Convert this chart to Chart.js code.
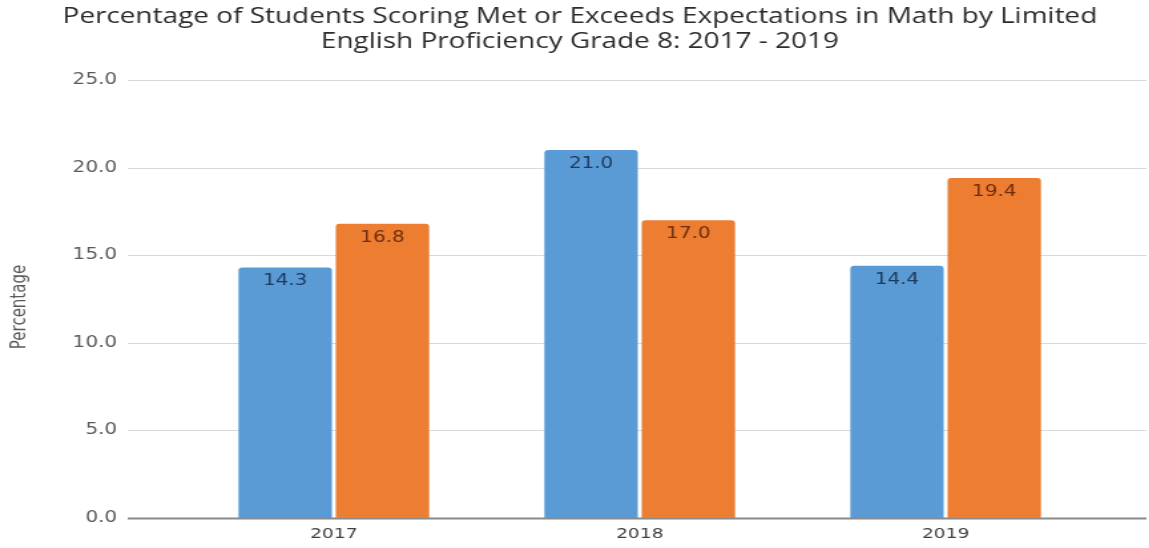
<!DOCTYPE html>
<html>
<head>
<meta charset="utf-8">
<script src="https://cdn.jsdelivr.net/npm/chart.js@4.4.1/dist/chart.umd.min.js"></script>
<style>
  html, body { margin: 0; padding: 0; background: #fff; overflow: hidden; }
  /* chart is drawn narrow and widened on screen */
  #chart { display: block; transform: scaleX(1.33); transform-origin: 0 0; }
</style>
</head>
<body>
<canvas id="chart" width="864" height="548"></canvas>
<script>
const years = ["2017", "2018", "2019"];
const seriesA = [14.3, 21.0, 14.4];
const seriesB = [16.8, 17.0, 19.4];
const yTicks = [0, 5, 10, 15, 20, 25];
const titleLines = [
  "Percentage of Students Scoring Met or Exceeds Expectations in Math by Limited",
  "English Proficiency Grade 8: 2017 - 2019"
];

// title, y-axis caption, y tick labels and the long horizontal rules
const framePlugin = {
  id: "frame",
  beforeDatasetsDraw(chart) {
    const { ctx } = chart;
    const y = chart.scales.y;
    const left = 96, right = 862;
    ctx.save();
    ctx.font = "15px 'DejaVu Sans'";
    ctx.textAlign = "right";
    ctx.textBaseline = "middle";
    y.ticks.forEach(t => {
      const py = Math.round(y.getPixelForValue(t.value)) + 0.5;
      ctx.beginPath();
      ctx.strokeStyle = t.value === 0 ? "#8a8a8a" : "#d9d9d9";
      ctx.lineWidth = t.value === 0 ? 2 : 1;
      ctx.moveTo(left, py);
      ctx.lineTo(right, py);
      ctx.stroke();
      ctx.fillStyle = "#595959";
      ctx.fillText(t.value.toFixed(1), 88, py);
    });

    ctx.fillStyle = "#2b2b2b";
    ctx.font = "21px 'Open Sans'";
    ctx.textAlign = "center";
    ctx.fillText(titleLines[0], 436, 17);
    ctx.fillText(titleLines[1], 436, 42);

    ctx.fillStyle = "#595959";
    ctx.font = "15px 'DejaVu Sans'";
    ctx.translate(15, 307);
    ctx.rotate(-Math.PI / 2);
    ctx.fillText("Percentage", 0, 0);
    ctx.restore();
  }
};

// value labels inside the top of every bar
const valuePlugin = {
  id: "barValues",
  afterDatasetsDraw(chart) {
    const { ctx } = chart;
    const colors = ["#1f3a60", "#6e2d0c"];
    ctx.save();
    ctx.font = "15px 'DejaVu Sans'";
    ctx.textAlign = "center";
    ctx.textBaseline = "middle";
    chart.data.datasets.forEach((ds, i) => {
      chart.getDatasetMeta(i).data.forEach((bar, j) => {
        ctx.fillStyle = colors[i];
        ctx.fillText(ds.data[j].toFixed(1), bar.x, bar.y + 14);
      });
    });
    ctx.restore();
  }
};

new Chart(document.getElementById("chart"), {
  type: "bar",
  data: {
    labels: years,
    datasets: [
      { label: "LEP", data: seriesA, backgroundColor: "#5b9bd5",
        borderRadius: { topLeft: 3, topRight: 3 }, borderSkipped: "bottom" },
      { label: "Non-LEP", data: seriesB, backgroundColor: "#ed7d31",
        borderRadius: { topLeft: 3, topRight: 3 }, borderSkipped: "bottom" }
    ]
  },
  options: {
    responsive: false,
    animation: false,
    categoryPercentage: 0.636,
    barPercentage: 0.96,
    layout: { padding: { left: 0, right: 38, top: 80, bottom: 0 } },
    plugins: {
      legend: { display: false },
      tooltip: { enabled: false },
      title: { display: false }
    },
    scales: {
      x: {
        grid: { display: false },
        border: { display: false },
        ticks: { color: "#404040", padding: 0, font: { family: "'DejaVu Sans'", size: 14 } },
        afterFit(s) { s.height = 30; }
      },
      y: {
        min: 0,
        max: 25,
        afterBuildTicks(s) { s.ticks = yTicks.map(v => ({ value: v })); },
        grid: { display: false },
        border: { display: false },
        ticks: { display: false },
        afterFit(s) { s.width = 136; }
      }
    }
  },
  plugins: [framePlugin, valuePlugin]
});
</script>
</body>
</html>
